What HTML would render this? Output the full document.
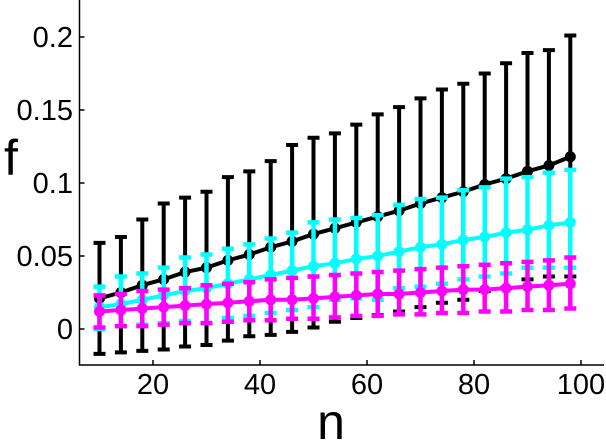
<!DOCTYPE html>
<html><head><meta charset="utf-8"><style>
html,body{margin:0;padding:0;background:#fff;width:606px;height:440px;overflow:hidden}
svg text{font-family:"Liberation Sans",sans-serif;fill:#000}
</style></head><body>
<svg id="chart" width="606" height="440" viewBox="0 0 606 440" xmlns="http://www.w3.org/2000/svg">
<g id="axes"></g>
<g id="plot"></g>
<text x="11" y="175" font-size="50" text-anchor="middle">f</text>
<text x="331" y="439" font-size="50" text-anchor="middle">n</text>
</svg>
<script>
const nValues=[10,14,18,22,26,30,34,38,42,46,50,54,58,62,66,70,74,78,82,86,90,94,98];
const blackMean=[0.021,0.025,0.030,0.034,0.039,0.042,0.047,0.051,0.056,0.060,0.065,0.069,0.073,0.077,0.081,0.086,0.090,0.094,0.099,0.103,0.108,0.112,0.118];
const blackUpper=[0.059,0.063,0.075,0.086,0.090,0.094,0.104,0.108,0.115,0.126,0.131,0.134,0.140,0.147,0.152,0.158,0.164,0.168,0.175,0.182,0.189,0.191,0.201];
const blackLower=[-0.017,-0.016,-0.015,-0.014,-0.012,-0.011,-0.008,-0.005,-0.004,-0.002,0.001,0.005,0.0075,0.0095,0.012,0.015,0.018,0.020,0.026,0.028,0.034,0.036,0.036];
const cyanMean=[0.015,0.017,0.020,0.023,0.026,0.028,0.031,0.034,0.037,0.040,0.043,0.045,0.048,0.050,0.053,0.056,0.058,0.061,0.063,0.066,0.068,0.071,0.073];
const cyanUpper=[0.029,0.036,0.038,0.042,0.049,0.051,0.055,0.058,0.062,0.066,0.073,0.075,0.076,0.078,0.085,0.089,0.090,0.095,0.097,0.103,0.104,0.107,0.109];
const cyanLower=[0.000,0.002,0.003,0.004,0.0055,0.004,0.0075,0.009,0.011,0.013,0.015,0.020,0.021,0.020,0.028,0.029,0.031,0.034,0.036,0.038,0.042,0.042,0.042];
const magMean=[0.012,0.013,0.014,0.015,0.016,0.017,0.018,0.019,0.020,0.020,0.021,0.022,0.023,0.024,0.024,0.025,0.026,0.027,0.027,0.028,0.029,0.030,0.031];
const magUpper=[0.023,0.024,0.026,0.027,0.028,0.030,0.031,0.032,0.034,0.035,0.036,0.037,0.038,0.039,0.040,0.041,0.042,0.043,0.044,0.045,0.046,0.047,0.049];
const magLower=[0.001,0.002,0.002,0.003,0.004,0.004,0.005,0.006,0.006,0.007,0.007,0.008,0.009,0.009,0.010,0.010,0.011,0.011,0.012,0.012,0.013,0.013,0.014];
const xTicks=[20,40,60,80,100];
const yTicks=[0,0.05,0.1,0.15,0.2];
const yTickLabels=["0","0.05","0.1","0.15","0.2"];

const NS="http://www.w3.org/2000/svg";
const X0=79.5,XR=604,YT=0,YB=365;
function xs(n){return 46+n*5.35;}
function ys(f){return 329-f*1460;}
function mk(tag,attrs,parent){const e=document.createElementNS(NS,tag);for(const k in attrs)e.setAttribute(k,attrs[k]);parent.appendChild(e);return e;}

const axes=document.getElementById('axes');
let a=mk('path',{d:`M${X0},${YT} L${X0},${YB} L${XR},${YB}`,fill:'none',stroke:'#000','stroke-width':1.5},axes);


xTicks.forEach(t=>{
  const x=xs(t);
  const l=mk('line',{x1:x,x2:x,y1:YB,y2:YB-5,stroke:'#000','stroke-width':1.5},axes);
  
  
  const tx=mk('text',{x:x,y:YB+29,'font-size':29,'text-anchor':'middle'},axes);
  tx.textContent=t;
  
  
});
yTicks.forEach((t,i)=>{
  const y=ys(t);
  const l=mk('line',{x1:X0,x2:X0+5,y1:y,y2:y,stroke:'#000','stroke-width':1.5},axes);
  
  
  const tx=mk('text',{x:73,y:y+10,'font-size':29,'text-anchor':'end'},axes);
  tx.textContent=yTickLabels[i];
  
  
});

const plot=document.getElementById('plot');
function series(name,color,mean,up,lo,bw){
  const g=mk('g',{},plot);
  
  
  nValues.forEach((n,i)=>{
    const x=xs(n);
    const b=mk('path',{d:`M${x},${ys(up[i])} L${x},${ys(lo[i])} M${x-6},${ys(up[i])} L${x+6},${ys(up[i])} M${x-6},${ys(lo[i])} L${x+6},${ys(lo[i])}`,stroke:color,'stroke-width':bw,fill:'none'},g);
    
    
  });
  const pts=nValues.map((n,i)=>xs(n)+','+ys(mean[i])).join(' ');
  const pl=mk('polyline',{points:pts,fill:'none',stroke:color,'stroke-width':4},g);
  
  
  nValues.forEach((n,i)=>{
    const c=mk('circle',{cx:xs(n),cy:ys(mean[i]),r:5.5,fill:color},g);
    
    
  });
}
series('black','#000',blackMean,blackUpper,blackLower,4);
series('cyan','#00ffff',cyanMean,cyanUpper,cyanLower,4.5);
series('magenta','#ff00ff',magMean,magUpper,magLower,4.5);
</script>
</body></html>
